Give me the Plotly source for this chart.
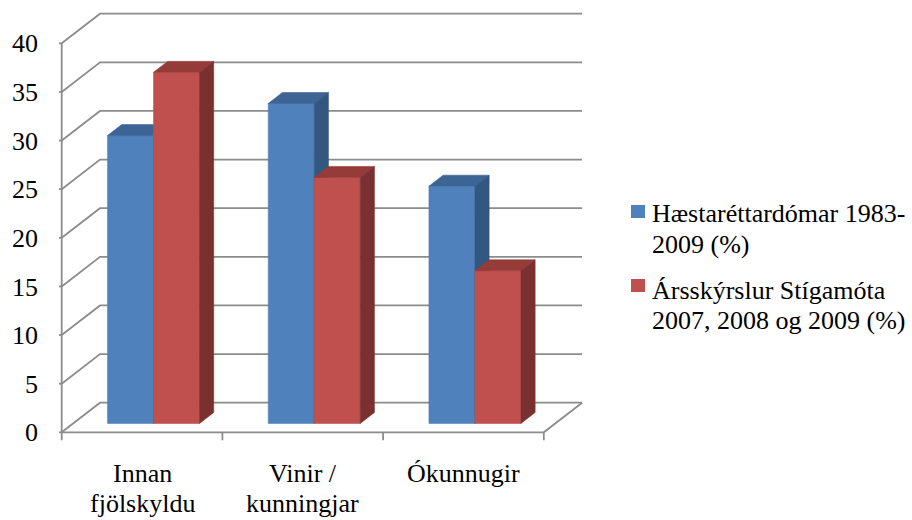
import plotly.graph_objects as go

# ---- data ----
categories = ["Innan<br>fjölskyldu", "Vinir /<br>kunningjar", "Ókunnugir"]
series_names = ["Hæstaréttardómar 1983-<br>2009 (%)",
                "Ársskýrslur Stígamóta<br>2007, 2008 og 2009 (%)"]
hæstarettur = [29.6, 32.9, 24.4]
stigamot = [36.1, 25.3, 15.7]
y_ticks = [0, 5, 10, 15, 20, 25, 30, 35, 40]
y_ticklabels = ["0", "5", "10", "15", "20", "25", "30", "35", "40"]

series_values = [hæstarettur, stigamot]
front_colors = ["#4F81BD", "#C0504D"]
top_colors = ["#3C6596", "#953C39"]
side_colors = ["#33577F", "#7A302E"]

FONT = "Times New Roman, Tinos, Liberation Serif, DejaVu Serif, serif"

# ---- geometry (oblique 3D projection in data units) ----
W, H = 912, 520
L, R, T, B = 59, 327, 10, 78
SX = 160.7      # px per category unit
SY = 9.725      # px per value unit
DX = 38.3 / SX  # full depth offset (x units)
DY = 29.6 / SY  # full depth offset (value units)
d0, bd = 0.30, 0.37       # bar front-plane depth and bar depth (fractions)
bw = 46 / SX               # bar width
x0 = -0.5 - 2.7 / SX
x1 = x0 + (W - L - R) / SX
y0 = -(442 - 432.3) / SY
y1 = y0 + (H - T - B) / SY

grid = dict(color="#8C8C8C", width=1.8)
fig = go.Figure()

# walls and floor
gx, gy = [], []
for v in y_ticks:
    gx += [-0.5, -0.5 + DX, 2.5 + DX, None]
    gy += [v, v + DY, v + DY, None]
gx += [-0.5, -0.5, None, -0.5, 2.5, 2.5 + DX, None]
gy += [0, y_ticks[-1], None, 0, 0, DY, None]
for v in y_ticks:
    gx += [-0.5 - 7 / SX, -0.5, None]
    gy += [v, v, None]
for k in range(len(categories) + 1):
    gx += [k - 0.5, k - 0.5, None]
    gy += [0, -8 / SY, None]
fig.add_trace(go.Scatter(x=gx, y=gy, mode="lines", line=grid,
                         hoverinfo="skip", showlegend=False))

# bars
def poly(xs, ys, color, name):
    fig.add_trace(go.Scatter(x=xs + [xs[0]], y=ys + [ys[0]], mode="lines",
                             fill="toself", fillcolor=color,
                             line=dict(color=color, width=0.6),
                             name=name, showlegend=False, hoverinfo="skip"))

base = d0 * DY
ox, oy = bd * DX, bd * DY
for c in range(len(categories)):
    for s, vals in enumerate(series_values):
        v = vals[c]
        xl = c + d0 * DX - bw + s * bw
        xr = xl + bw
        top = base + v
        nm = series_names[s].replace("<br>", " ")
        poly([xl, xr, xr, xl], [base, base, top, top], front_colors[s], nm)
        poly([xl, xr, xr + ox, xl + ox], [top, top, top + oy, top + oy], top_colors[s], nm)
        poly([xr, xr + ox, xr + ox, xr], [base, base + oy, top + oy, top], side_colors[s], nm)

# category labels
ann = []
for c, lab in enumerate(categories):
    for i, line in enumerate(lab.split("<br>")):
        ann.append(dict(x=c, y=0, xref="x", yref="y", text=line, showarrow=False,
                        xanchor="center", yanchor="middle", yshift=-40.7 - 30 * i,
                        font=dict(family=FONT, size=26, color="black")))

# legend (manual)
def px2paper(px, py):
    return (px - L) / (W - L - R), (H - B - py) / (H - T - B)

shapes = []
legend_rows = [(205, [213, 245]), (279, [290, 320])]
for s, (sq_top, line_ys) in enumerate(legend_rows):
    ax0, ay0 = px2paper(631, sq_top)
    ax1, ay1 = px2paper(645, sq_top + 13)
    shapes.append(dict(type="rect", xref="paper", yref="paper", x0=ax0, x1=ax1,
                       y0=ay1, y1=ay0, fillcolor=front_colors[s], line=dict(width=0)))
    for i, line in enumerate(series_names[s].split("<br>")):
        tx, ty = px2paper(650, line_ys[i])
        ann.append(dict(x=tx, y=ty, xref="paper", yref="paper", text=line,
                        showarrow=False, xanchor="left", yanchor="middle",
                        font=dict(family=FONT, size=26, color="black")))

fig.update_layout(
    width=W, height=H, autosize=False,
    margin=dict(l=L, r=R, t=T, b=B, pad=0),
    paper_bgcolor="white", plot_bgcolor="white",
    showlegend=False,
    font=dict(family=FONT, size=26, color="black"),
    annotations=ann, shapes=shapes,
    xaxis=dict(range=[x0, x1], showgrid=False, zeroline=False, showline=False,
               showticklabels=False, ticks="", fixedrange=True),
    yaxis=dict(range=[y0, y1], showgrid=False, zeroline=False, showline=False,
               tickmode="array", tickvals=y_ticks, ticktext=y_ticklabels,
               ticks="", ticklabelstandoff=20,
               tickfont=dict(family=FONT, size=26, color="black"), fixedrange=True),
)

fig.write_html("out.html", config={"displayModeBar": False},
               post_script="document.body.style.margin='0';document.body.style.overflow='hidden';")
